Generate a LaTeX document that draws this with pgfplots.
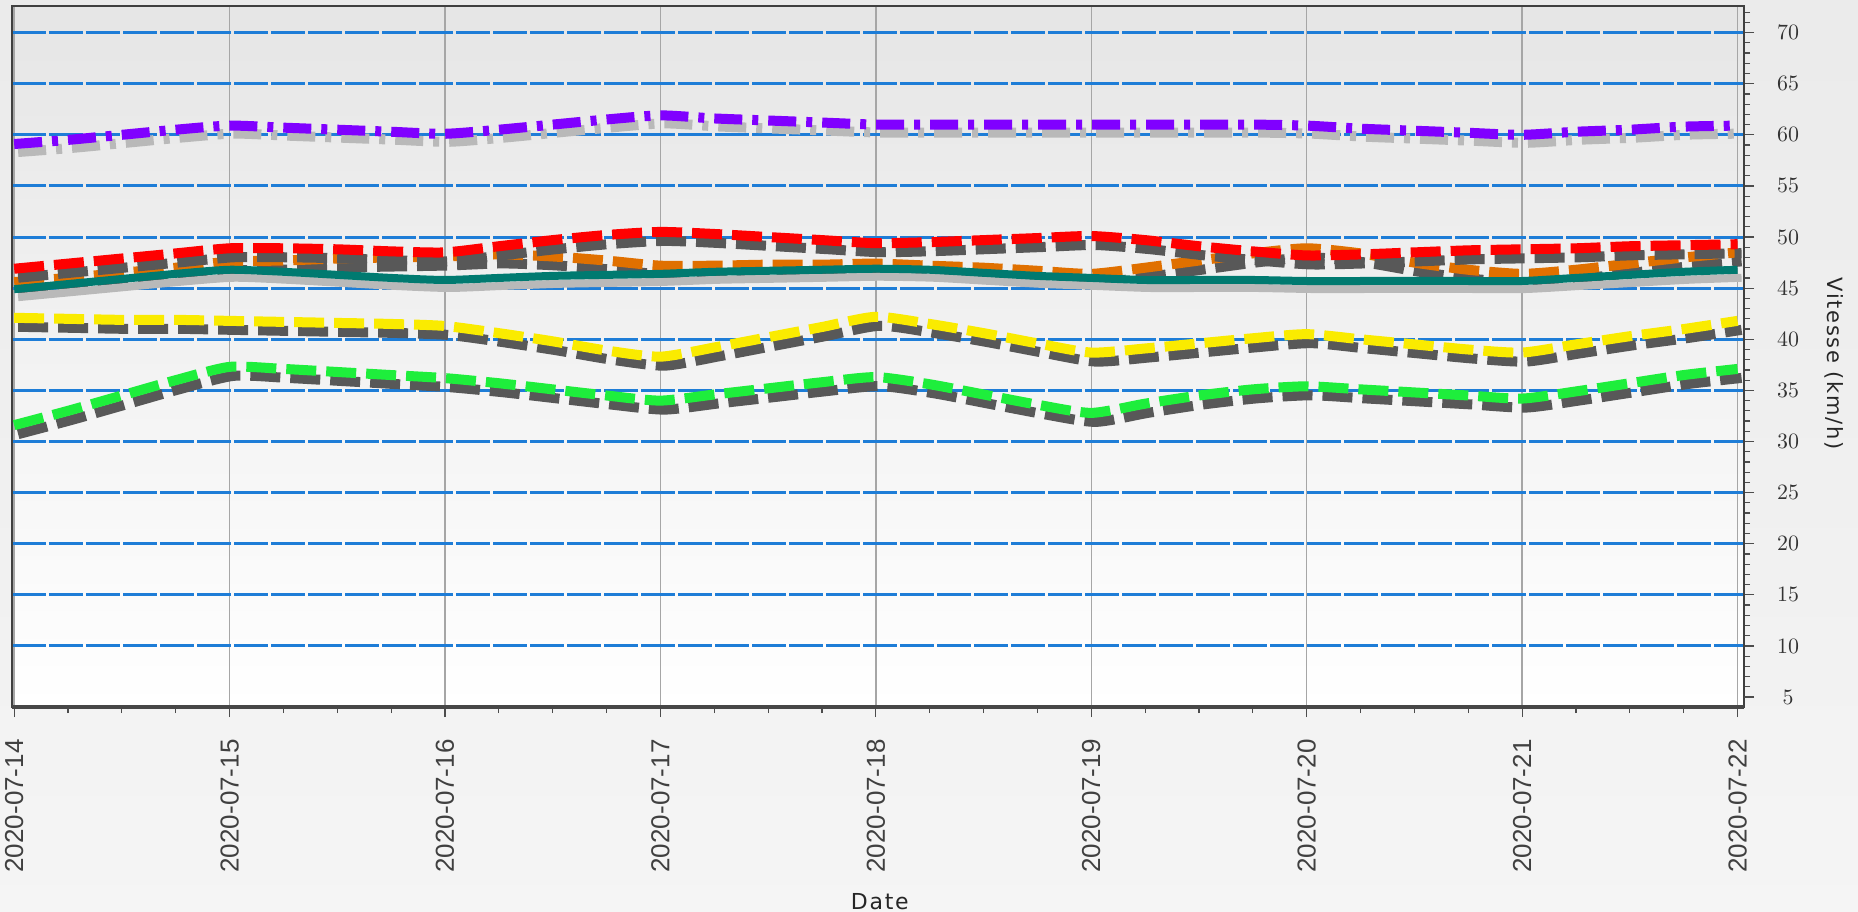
\documentclass[border=0pt]{standalone}
\usepackage{fontspec}
\setmainfont{Liberation Sans}
\newfontfamily\ytickfont[LetterSpace=30]{DejaVu Sans}
\newfontfamily\labfont[LetterSpace=8]{DejaVu Sans}
\usepackage{pgfplots}
\pgfplotsset{compat=1.18}
\usepackage{pgfplotstable}

\definecolor{cpurple}{RGB}{128,0,255}
\definecolor{cred}{RGB}{255,0,0}
\definecolor{corange}{RGB}{224,112,0}
\definecolor{cteal}{RGB}{0,122,112}
\definecolor{cyellow}{RGB}{250,235,0}
\definecolor{cgreen}{RGB}{30,238,60}
\definecolor{dshadow}{RGB}{88,88,88}
\definecolor{lshadow}{RGB}{185,185,185}
\definecolor{gridblue}{RGB}{30,125,215}

\pgfplotstableread{
x    purple red  orange teal yellow green
0    59.1  46.9  45.6  44.9  42.1  31.6
0.25 59.5  47.4  46.0  45.4  42.0  33.0
0.5  60.0  47.9  46.5  45.9  41.9  34.5
0.75 60.5  48.4  47.0  46.4  41.9  36.0
1    60.9  48.9  47.6  46.8  41.8  37.3
1.25 60.7  48.9  47.7  46.6  41.7  37.1
1.5  60.5  48.8  47.9  46.3  41.6  36.8
1.75 60.3  48.6  48.0  46.0  41.5  36.5
2    60.1  48.5  48.1  45.8  41.3  36.2
2.25 60.5  49.1  48.3  46.0  40.6  35.7
2.5  61.0  49.7  48.1  46.2  39.8  35.1
2.75 61.5  50.2  47.7  46.3  38.9  34.5
3    61.9  50.5  47.2  46.4  38.3  34.0
3.25 61.6  50.3  47.2  46.6  39.2  34.6
3.5  61.4  50.0  47.3  46.7  40.2  35.2
3.75 61.2  49.7  47.3  46.8  41.2  35.8
4    61.0  49.4  47.4  46.9  42.2  36.3
4.25 61.0  49.5  47.2  46.8  41.5  35.6
4.5  61.0  49.7  47.0  46.5  40.6  34.6
4.75 61.0  49.9  46.7  46.2  39.6  33.6
5    61.0  50.1  46.4  46.0  38.7  32.8
5.25 61.0  49.7  47.0  45.8  39.1  33.7
5.5  61.0  49.1  47.7  45.8  39.6  34.5
5.75 61.0  48.6  48.4  45.8  40.1  35.1
6    60.9  48.2  48.9  45.7  40.5  35.4
6.25 60.6  48.3  48.4  45.7  40.0  35.1
6.5  60.4  48.5  47.5  45.7  39.5  34.8
6.75 60.2  48.7  46.8  45.7  39.0  34.5
7    60.0  48.8  46.4  45.7  38.7  34.2
7.25 60.3  48.9  46.8  46.0  39.5  34.9
7.5  60.5  49.1  47.4  46.3  40.3  35.7
7.75 60.8  49.2  48.0  46.6  41.0  36.5
8    60.9  49.3  48.5  46.8  41.8  37.1
}\data

\begin{document}
\begin{tikzpicture}[x=1pt,y=1pt]
\shade[top color=black!8, bottom color=black!4] (0,0) rectangle (929,455.5);
\path[use as bounding box] (0,0) rectangle (929,455.5);
\begin{axis}[
  at={(6pt,452.5pt)}, anchor=north west,
  scale only axis, width=866pt, height=350.5pt,
  xmin=-0.01, xmax=8.03, ymin=4.03, ymax=72.6,
  axis background/.style={shade, top color=black!10, bottom color=white},
  axis line style={draw=black!75, line width=1pt},
  tick align=outside,
  xtick pos=bottom, ytick pos=right,
  xtick={0,1,...,8},
  xticklabels={2020-07-14,2020-07-15,2020-07-16,2020-07-17,2020-07-18,2020-07-19,2020-07-20,2020-07-21,2020-07-22},
  minor xtick={0,0.25,...,8},
  ytick={10,15,...,70},
  extra y ticks={5},
  extra y tick style={grid=none},
  minor ytick={5,6,...,72},
  major tick length=5pt, minor tick length=3pt,
  tick style={black!70, line width=0.6pt},
  xmajorgrids, ymajorgrids,
  x grid style={draw=black!35, line width=0.7pt},
  y grid style={draw=gridblue, line width=1.5pt, dash pattern=on 17pt off 1.5pt},
  xticklabel style={rotate=90, anchor=east, font=\fontsize{13}{13}\selectfont, text=black!75, xshift=-7.7pt},
  yticklabel style={anchor=center, font=\ytickfont\fontsize{11}{11}\selectfont, text=black!80, xshift=17pt},
  xlabel={Date},
  ylabel={Vitesse (km/h)},
  xlabel style={font=\labfont\fontsize{11}{11}\selectfont, text=black!85, at={(axis description cs:0.501,-0.277)}, anchor=center},
  ylabel style={font=\labfont\fontsize{10.5}{10.5}\selectfont, text=black!85, at={(axis description cs:1.052,0.49)}, anchor=center, rotate=180},
  every axis plot/.append style={smooth, tension=0.4},
  after end axis/.code={\draw[line width=2pt, black!72] (rel axis cs:0,0) -- (rel axis cs:1,0);},
]
% purple
\addplot[lshadow, line width=5pt, dash pattern=on 14pt off 5pt on 3pt off 5pt, xshift=2pt, yshift=-4pt] table[x=x,y=purple]{\data};
\addplot[cpurple, line width=5pt, dash pattern=on 14pt off 5pt on 3pt off 5pt] table[x=x,y=purple]{\data};
% orange
\addplot[dshadow, line width=5pt, dash pattern=on 15pt off 5pt, xshift=2pt, yshift=-4.5pt] table[x=x,y=orange]{\data};
\addplot[corange, line width=5pt, dash pattern=on 15pt off 5pt] table[x=x,y=orange]{\data};
% teal
\addplot[lshadow, line width=4pt, xshift=2pt, yshift=-4pt] table[x=x,y=teal]{\data};
\addplot[cteal, line width=4pt] table[x=x,y=teal]{\data};
% red
\addplot[dshadow, line width=5pt, dash pattern=on 15pt off 5pt, xshift=2pt, yshift=-4.5pt] table[x=x,y=red]{\data};
\addplot[cred, line width=5pt, dash pattern=on 15pt off 5pt] table[x=x,y=red]{\data};
% yellow
\addplot[dshadow, line width=5pt, dash pattern=on 15pt off 5pt, xshift=2pt, yshift=-4.5pt] table[x=x,y=yellow]{\data};
\addplot[cyellow, line width=5pt, dash pattern=on 15pt off 5pt] table[x=x,y=yellow]{\data};
% green
\addplot[dshadow, line width=5pt, dash pattern=on 15pt off 5pt, xshift=2pt, yshift=-4.5pt] table[x=x,y=green]{\data};
\addplot[cgreen, line width=5pt, dash pattern=on 15pt off 5pt] table[x=x,y=green]{\data};
\end{axis}
\end{tikzpicture}
\end{document}
